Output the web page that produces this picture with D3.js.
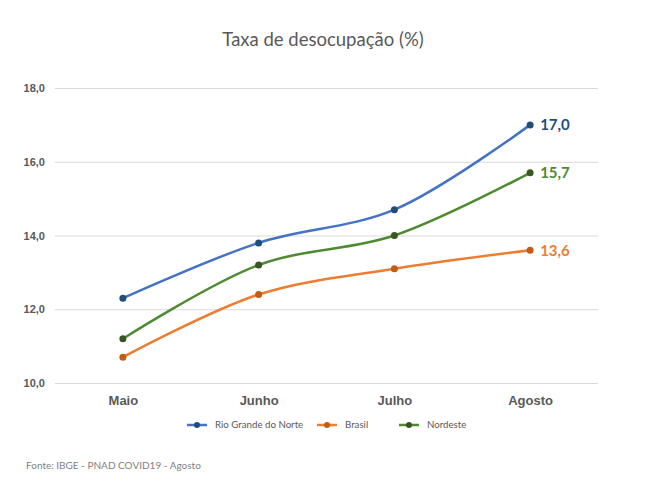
<!DOCTYPE html>
<html>
<head>
<meta charset="utf-8">
<script src="https://cdn.jsdelivr.net/npm/d3@7"></script>
<style>
  body { margin: 0; background: #fff; }
  svg { font-family: Lato, "Open Sans", sans-serif; }
</style>
</head>
<body>
<svg id="chart" width="646" height="481"></svg>
<script>
// data
var months = ["Maio", "Junho", "Julho", "Agosto"];
var yTicks = [10, 12, 14, 16, 18];
var rgn = [12.3, 13.8, 14.7, 17.0];
var brasil = [10.7, 12.4, 13.1, 13.6];
var nordeste = [11.2, 13.2, 14.0, 15.7];

var seriesNames = ["Rio Grande do Norte", "Brasil", "Nordeste"];
var lineColors = ["#4472c4", "#ed7d31", "#4e8a32"];
var dotColors = ["#1f4e79", "#c55a11", "#375623"];
var labelColors = ["#1f4e79", "#ed7d31", "#4e8a32"];

var series = [rgn, brasil, nordeste].map(function(v, i) {
  return { name: seriesNames[i], values: v, line: lineColors[i], dot: dotColors[i], label: labelColors[i] };
});

var svg = d3.select("#chart");
var fmt = function(d) { return d3.format(".1f")(d).replace(".", ","); };

var plotLeft = 55, plotRight = 598, plotTop = 88, plotBottom = 383;

var x = d3.scalePoint()
    .domain(months)
    .range([plotLeft, plotRight])
    .padding(0.5);

var y = d3.scaleLinear()
    .domain([10, 18])
    .range([plotBottom, plotTop]);

// title
svg.append("text")
    .attr("x", 323)
    .attr("y", 46)
    .attr("text-anchor", "middle")
    .style("font-size", "18.5px")
    .style("fill", "#595959")
    .text("Taxa de desocupação (%)");

// grid + y labels
var yAxis = d3.axisLeft(y)
    .tickValues(yTicks)
    .tickSize(-(plotRight - plotLeft))
    .tickPadding(10)
    .tickFormat(fmt);

var gy = svg.append("g")
    .attr("transform", "translate(" + plotLeft + ",0)")
    .call(yAxis);
gy.select(".domain").remove();
gy.selectAll(".tick line").attr("stroke", "#d9d9d9");
gy.selectAll(".tick text")
    .style("font-size", "11px")
    .style("font-weight", "bold")
    .style("fill", "#595959");

// x labels
var xAxis = d3.axisBottom(x).tickSize(0).tickPadding(13);
var gx = svg.append("g")
    .attr("transform", "translate(0," + plotBottom + ")")
    .call(xAxis);
gx.select(".domain").remove();
gx.selectAll(".tick text")
    .style("font-size", "13px")
    .style("font-weight", "bold")
    .style("fill", "#595959");

var line = d3.line()
    .x(function(d, i) { return x(months[i]); })
    .y(function(d) { return y(d); })
    .curve(d3.curveCatmullRom.alpha(0.5));

var g = svg.append("g");

series.forEach(function(s) {
  g.append("path")
      .attr("d", line(s.values))
      .attr("fill", "none")
      .attr("stroke", s.line)
      .attr("stroke-width", 2.5);

  g.selectAll(null)
      .data(s.values)
    .enter().append("circle")
      .attr("cx", function(d, i) { return x(months[i]); })
      .attr("cy", function(d) { return y(d); })
      .attr("r", 3.5)
      .attr("fill", s.dot);

  var last = s.values[s.values.length - 1];
  g.append("text")
      .attr("x", x(months[months.length - 1]) + 10)
      .attr("y", y(last))
      .attr("dy", "0.35em")
      .style("font-size", "15px")
      .style("font-weight", "bold")
      .style("fill", s.label)
      .text(fmt(last));
});

// legend
var legendX = [187, 317, 399];
var leg = svg.append("g").attr("transform", "translate(0,425)");
series.forEach(function(s, i) {
  var lg = leg.append("g").attr("transform", "translate(" + legendX[i] + ",0)");
  lg.append("line")
      .attr("x1", 0).attr("x2", 20)
      .attr("stroke", s.line)
      .attr("stroke-width", 2.5);
  lg.append("circle")
      .attr("cx", 10).attr("r", 3)
      .attr("fill", s.dot);
  lg.append("text")
      .attr("x", 28)
      .attr("dy", "0.35em")
      .style("font-size", "9.7px")
      .style("fill", "#595959")
      .text(s.name);
});

// source
svg.append("text")
    .attr("x", 26)
    .attr("y", 469)
    .style("font-size", "10px")
    .style("fill", "#7f7f7f")
    .text("Fonte: IBGE - PNAD COVID19 - Agosto");
</script>
</body>
</html>
